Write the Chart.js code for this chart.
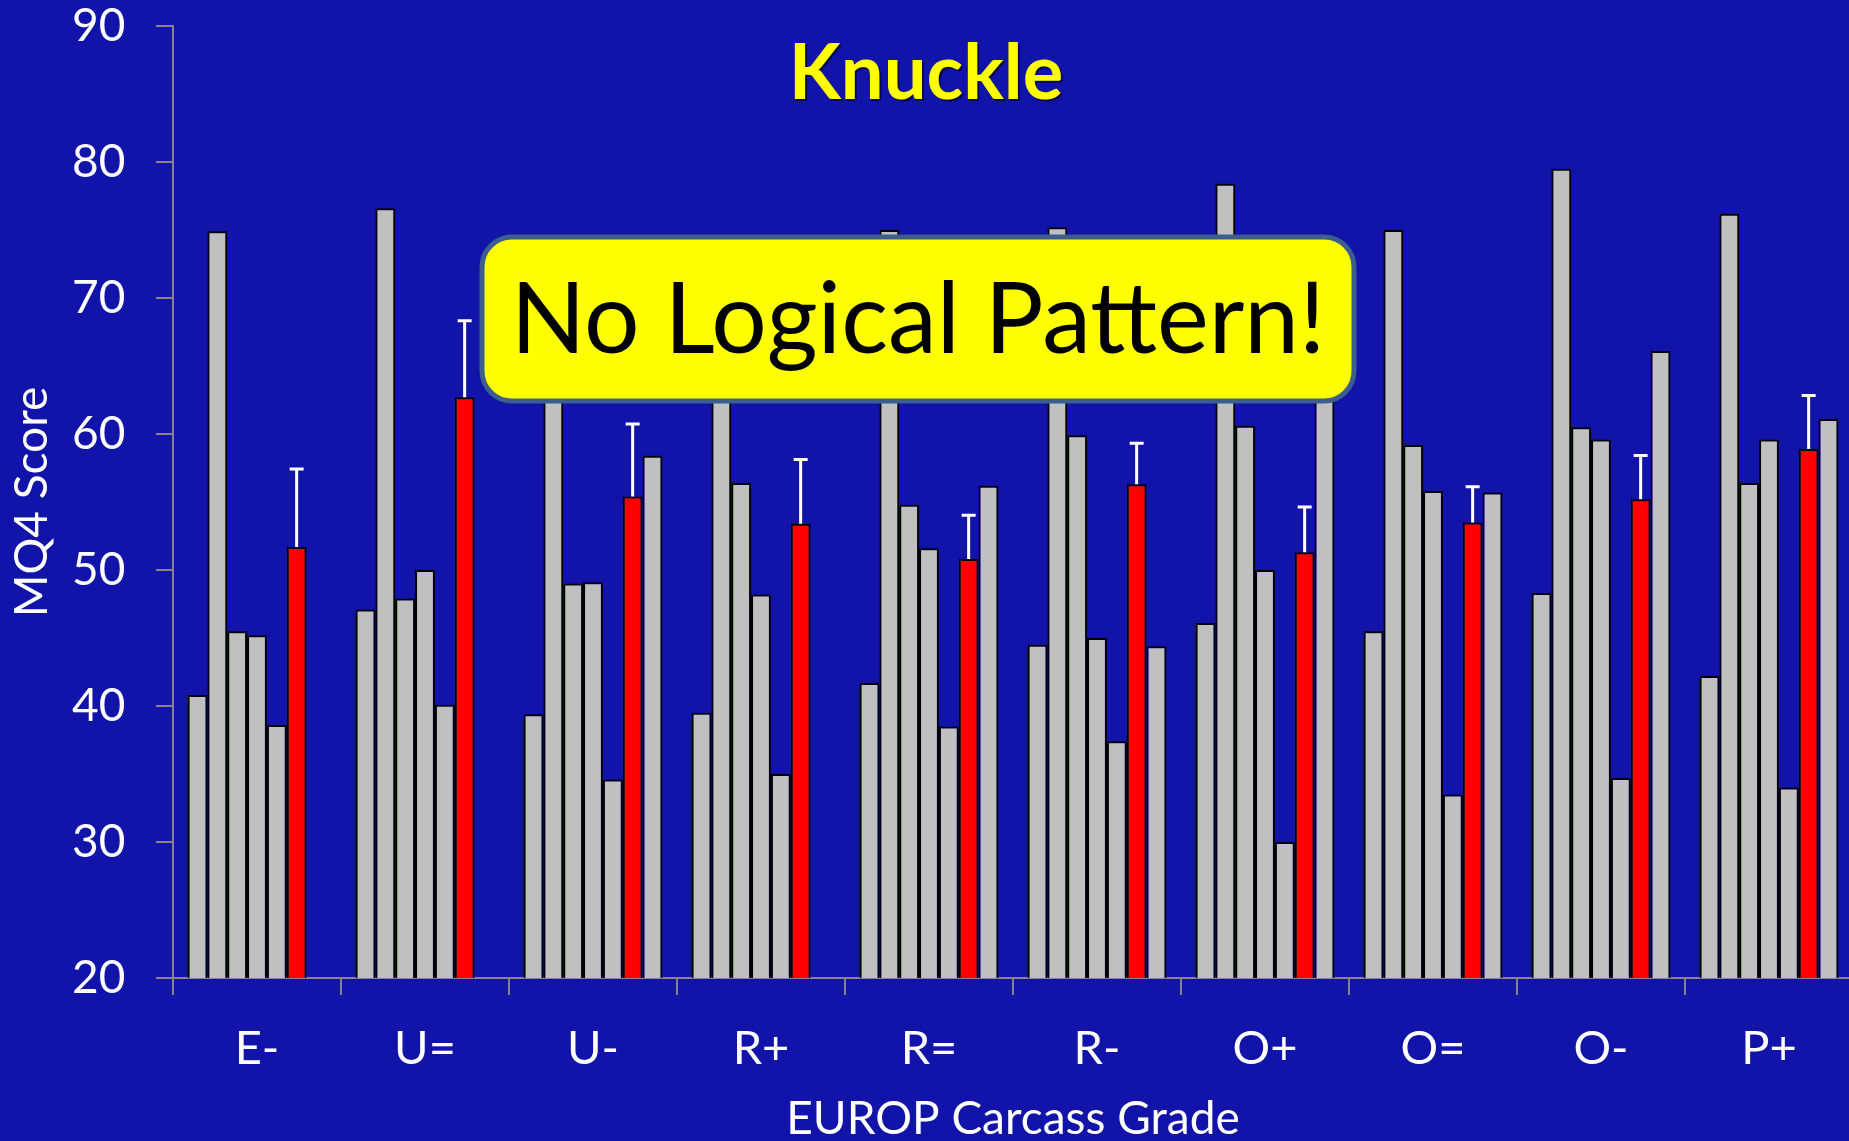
<!DOCTYPE html>
<html>
<head>
<meta charset="utf-8">
<script src="https://cdn.jsdelivr.net/npm/chart.js@4.4.1/dist/chart.umd.min.js"></script>
<style>
  html, body { margin: 0; padding: 0; overflow: hidden; background: #1113A9; }
  .chart-wrap { width: 1855px; height: 1200px; position: relative; }
</style>
</head>
<body>
<div class="chart-wrap"><canvas id="chart"></canvas></div>
<script>
// EUROP grades along the x axis
const grades = ['E-', 'U=', 'U-', 'R+', 'R=', 'R-', 'O+', 'O=', 'O-', 'P+'];

// six grey series + the red mean series
const s1 = [40.8, 47.1, 39.4, 39.5, 41.7, 44.5, 46.1, 45.5, 48.3, 42.2];
const s2 = [74.9, 76.6, 70.0, 68.0, 75.0, 75.2, 78.4, 75.0, 79.5, 76.2];
const s3 = [45.5, 47.9, 49.0, 56.4, 54.8, 59.9, 60.6, 59.2, 60.5, 56.4];
const s4 = [45.2, 50.0, 49.1, 48.2, 51.6, 45.0, 50.0, 55.8, 59.6, 59.6];
const s5 = [38.6, 40.1, 34.6, 35.0, 38.5, 37.4, 30.0, 33.5, 34.7, 34.0];
const meanScore = [51.7, 62.7, 55.4, 53.4, 50.8, 56.3, 51.3, 53.5, 55.2, 58.9];
const s7 = [null, null, 58.4, null, 56.2, 44.4, 66.0, 55.7, 66.1, 61.1];
// upper error bar on the red series
const meanErr = [5.8, 5.7, 5.4, 4.8, 3.3, 3.1, 3.4, 2.7, 3.3, 4.0];

const yTicks = [20, 30, 40, 50, 60, 70, 80, 90];

const GREY = '#C0C0C0';
const RED = '#FF0000';
const AXIS = '#868686';

Chart.defaults.font.family = 'Lato, "Open Sans", sans-serif';

const bar = (data, color) => ({
  data,
  backgroundColor: color,
  borderColor: '#000000',
  borderWidth: 2,
  categoryPercentage: 0.826,
  barPercentage: 1.0,
});

const overlay = {
  id: 'overlay',
  afterDatasetsDraw(chart) {
    const meta = chart.getDatasetMeta(5);
    const y = chart.scales.y;
    const ctx = chart.ctx;
    ctx.save();
    ctx.strokeStyle = '#FFFFFF';
    ctx.lineWidth = 3;
    meta.data.forEach((el, i) => {
      const top = y.getPixelForValue(meanScore[i] + meanErr[i]);
      ctx.beginPath();
      ctx.moveTo(el.x, el.y);
      ctx.lineTo(el.x, top);
      ctx.moveTo(el.x - 7, top + 1);
      ctx.lineTo(el.x + 7, top + 1);
      ctx.stroke();
    });
    ctx.restore();
  },
  afterDraw(chart) {
    const ctx = chart.ctx;
    const area = chart.chartArea;
    ctx.save();
    ctx.textAlign = 'center';
    ctx.textBaseline = 'middle';

    // y axis title
    ctx.save();
    ctx.translate(32, (area.top + area.bottom) / 2);
    ctx.rotate(-Math.PI / 2);
    ctx.fillStyle = '#FFFFFF';
    ctx.font = '46px Lato';
    ctx.fillText('MQ4 Score', 0, 0);
    ctx.restore();

    // chart title
    ctx.fillStyle = '#FFFF00';
    ctx.font = 'bold 76px Lato';
    ctx.shadowColor = 'rgba(0,0,0,0.5)';
    ctx.shadowOffsetX = 2;
    ctx.shadowOffsetY = 2;
    ctx.fillText('Knuckle', 926, 74);
    ctx.shadowColor = 'transparent';

    // callout box
    const bx = 482, by = 237, bw = 872, bh = 164, r = 30;
    ctx.beginPath();
    ctx.roundRect(bx, by, bw, bh, r);
    ctx.fillStyle = '#FFFF00';
    ctx.fill();
    ctx.lineWidth = 5;
    ctx.strokeStyle = '#3B5E8E';
    ctx.stroke();
    ctx.fillStyle = '#000000';
    ctx.font = '98px Lato';
    ctx.fillText('No Logical Pattern!', bx + bw / 2, by + bh / 2 + 2);
    ctx.restore();
  }
};

new Chart(document.getElementById('chart'), {
  type: 'bar',
  data: {
    labels: grades,
    datasets: [
      bar(s1, GREY), bar(s2, GREY), bar(s3, GREY), bar(s4, GREY),
      bar(s5, GREY), bar(meanScore, RED), bar(s7, GREY),
    ]
  },
  options: {
    responsive: true,
    maintainAspectRatio: false,
    animation: false,
    layout: { autoPadding: false, padding: { top: 26, right: 2, left: 72, bottom: 53 } },
    plugins: { legend: { display: false }, tooltip: { enabled: false } },
    scales: {
      x: {
        grid: { drawOnChartArea: false, drawTicks: true, tickLength: 17, color: AXIS, lineWidth: 2, offset: true },
        border: { color: AXIS, width: 2 },
        ticks: { color: '#FFFFFF', font: { size: 47 }, padding: 26 },
        title: { display: true, text: 'EUROP Carcass Grade', color: '#FFFFFF', font: { size: 46 }, padding: { top: 16, bottom: 0 } },
        afterFit: axis => { axis.height = 169; }
      },
      y: {
        min: 20, max: 90,
        afterBuildTicks: axis => { axis.ticks = yTicks.map(v => ({ value: v })); },
        grid: { drawOnChartArea: false, drawTicks: true, tickLength: 17, color: AXIS, lineWidth: 2 },
        border: { color: AXIS, width: 2 },
        ticks: { color: '#FFFFFF', font: { size: 46, lineHeight: 1.1 }, padding: 0, crossAlign: 'far' },
        afterFit: axis => { axis.width = 101; }
      }
    }
  },
  plugins: [overlay]
});
</script>
</body>
</html>
